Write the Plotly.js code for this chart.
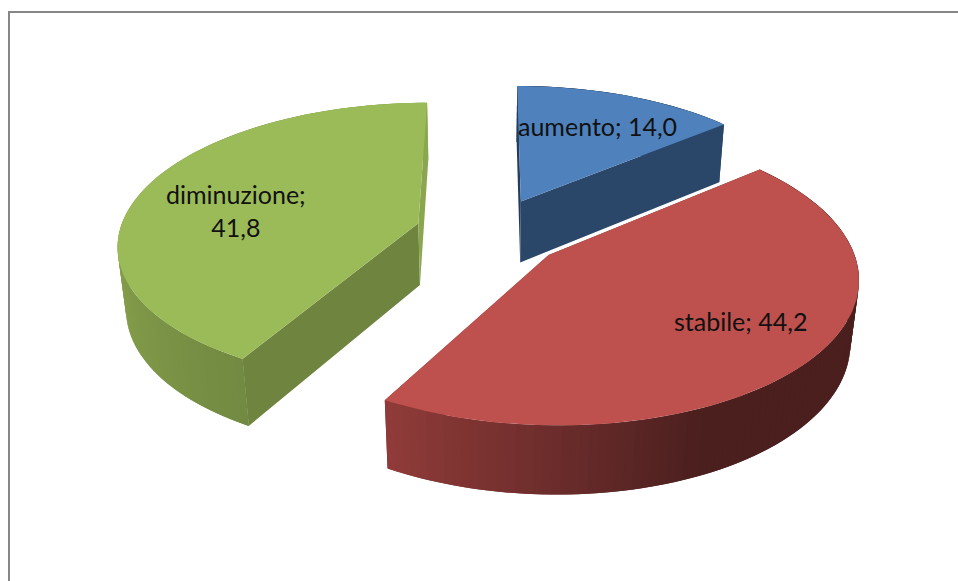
<!DOCTYPE html>
<html>
<head>
<meta charset="utf-8">
<script src="https://cdn.plot.ly/plotly-3.0.0.min.js"></script>
<style>html,body{margin:0;padding:0;background:#fff}#chart{width:958px;height:581px}</style>
</head>
<body>
<div id="chart"></div>
<script>
// Data
const categories = ["aumento", "stabile", "diminuzione"];
const values = [14.0, 44.2, 41.8];
// Styles
const topColors = ["#4F81BD", "#BE504D", "#9BBB59"];
const startCutColors = ["#243D5C", "#7A302E", "#6E843F"];
const endCutColors = ["#2A4669", "#7A302E", "#8AA74F"];
// wall colour stops: [angle in degrees, [r,g,b]]
const wallStops = [
  [[0, [36, 60, 90]], [360, [36, 60, 90]]],
  [[0, [74, 31, 30]], [155, [74, 31, 30]], [210, [146, 60, 58]]],
  [[205, [112, 136, 64]], [275, [140, 166, 80]], [360, [140, 166, 80]]]
];
const labelSpecs = [
  {x: 597, y: 126, lines: 1},
  {x: 740, y: 321, lines: 1},
  {x: 236, y: 210, lines: 2}
];

// Projection of the exploded, tilted pie
const view = {cx: 490, a: 299, p: 0.14, H: 997, horizon: -765, tau: 0.0225, floorY: 3000, explode: 0.25};
function project(X, Y, bottom) {
  const d = 1 + view.p * Y;
  let sx = view.cx + view.a * X / d;
  let sy = view.horizon + view.H / d;
  if (bottom) {
    const t = view.tau / d;
    sx += (view.cx - sx) * t;
    sy += (view.floorY - sy) * t;
  }
  return [sx, sy];
}
const rad = Math.PI / 180;
function wallColor(stops, deg) {
  if (deg <= stops[0][0]) return stops[0][1];
  for (let i = 1; i < stops.length; i++) {
    if (deg <= stops[i][0]) {
      const f = (deg - stops[i - 1][0]) / (stops[i][0] - stops[i - 1][0]);
      return stops[i - 1][1].map((v, k) => v + (stops[i][1][k] - v) * f);
    }
  }
  return stops[stops.length - 1][1];
}
function poly(points, color, lineWidth) {
  return {
    type: "scatter", mode: "lines", fill: "toself", fillcolor: color,
    x: points.map(p => p[0]), y: points.map(p => p[1]),
    line: {color: color, width: lineWidth}, hoverinfo: "skip", showlegend: false
  };
}

const total = values.reduce((a, b) => a + b, 0);
const slices = [];
let acc = 0;
values.forEach((v, i) => {
  const start = acc / total * 360, end = (acc + v) / total * 360;
  acc += v;
  slices.push({i, start, end});
});

const traces = [];
// painter's order: back-left, back-right, then the front slice
[2, 0, 1].forEach(i => {
  const s = slices[i];
  const mid = (s.start + s.end) / 2 * rad;
  const gx = view.explode * Math.sin(mid), gy = view.explode * Math.cos(mid);
  const rim = deg => [gx + Math.sin(deg * rad), gy + Math.cos(deg * rad)];
  const P = (pt, b) => project(pt[0], pt[1], b);
  const apex = [gx, gy];
  const cuts = [
    poly([P(apex, 0), P(rim(s.start), 0), P(rim(s.start), 1), P(apex, 1), P(apex, 0)], startCutColors[i], 0),
    poly([P(apex, 0), P(rim(s.end), 0), P(rim(s.end), 1), P(apex, 1), P(apex, 0)], endCutColors[i], 0)
  ];
  // curved wall in small overlapping strips, painted left to right on screen
  const strips = [];
  const step = 1.5;
  const ds = [];
  for (let d = s.start; d < s.end; d += step) ds.push(d);
  ds.reverse();
  ds.forEach(d => {
    const e = Math.min(d + step, s.end);
    const lo = Math.max(d - step, s.start);
    const c = wallColor(wallStops[i], (d + e) / 2).map(Math.round);
    strips.push(poly([P(rim(lo), 0), P(rim(e), 0), P(rim(e), 1), P(rim(lo), 1), P(rim(lo), 0)], `rgb(${c})`, 0));
  });
  if (i === 1) traces.push(...cuts, ...strips);
  else traces.push(...strips, ...cuts);
  // top face
  const top = [P(apex, 0)];
  for (let d = s.start; d <= s.end + 1e-6; d += 1) top.push(P(rim(d), 0));
  top.push(P(rim(s.end), 0), P(apex, 0));
  traces.push(poly(top, topColors[i], 0));
});

const annotations = categories.map((c, i) => {
  const num = values[i].toFixed(1).replace(".", ",");
  const spec = labelSpecs[i];
  return {
    x: spec.x, y: spec.y, xref: "x", yref: "y", showarrow: false,
    xanchor: "center", yanchor: "middle", align: "center",
    text: spec.lines === 2 ? `${c};<br>${num}` : `${c}; ${num}`,
    font: {family: "Lato, 'Open Sans', sans-serif", size: 25, color: "#111111"}
  };
});

const layout = {
  width: 958, height: 581, autosize: false,
  margin: {l: 0, r: 0, t: 0, b: 0},
  paper_bgcolor: "#ffffff", plot_bgcolor: "#ffffff",
  showlegend: false,
  xaxis: {range: [0, 958], visible: false, fixedrange: true},
  yaxis: {range: [581, 0], visible: false, fixedrange: true},
  annotations,
  shapes: [
    {type: "line", xref: "x", yref: "y", x0: 9, x1: 958, y0: 12, y1: 12, line: {color: "#868686", width: 2}},
    {type: "line", xref: "x", yref: "y", x0: 9, x1: 9, y0: 11, y1: 581, line: {color: "#868686", width: 2}}
  ]
};
Plotly.newPlot("chart", traces, layout, {displayModeBar: false, staticPlot: true});
</script>
</body>
</html>
